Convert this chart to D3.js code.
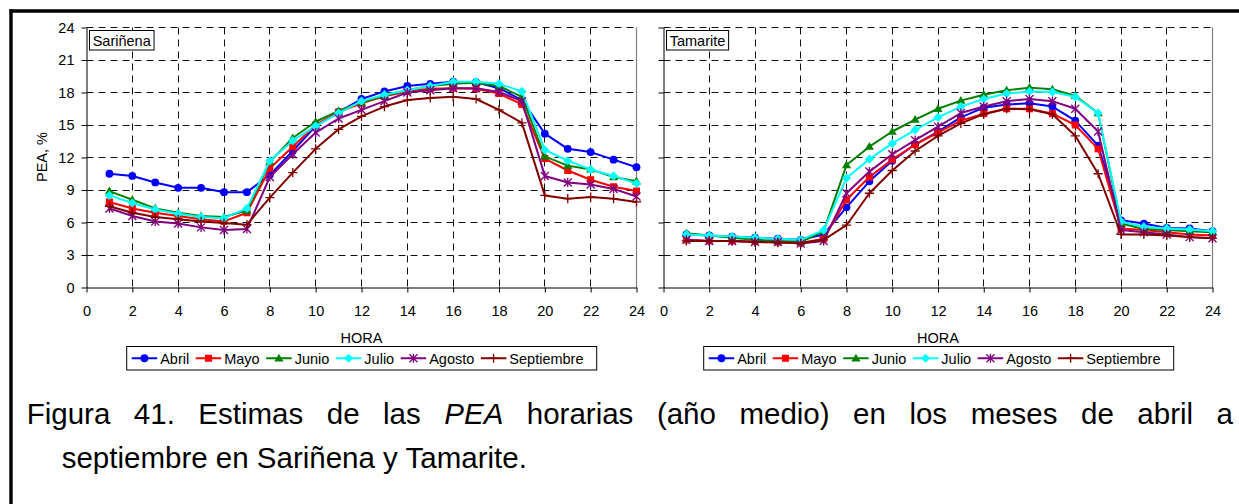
<!DOCTYPE html>
<html><head><meta charset="utf-8">
<script src="https://cdn.jsdelivr.net/npm/d3@7"></script>
<style>
body{margin:0;background:#fff;}
svg{display:block;font-family:"Liberation Sans",Arial,sans-serif;}
</style>
</head><body>
<svg id="c" width="1239" height="504"></svg>
<script>
// ---------- data ----------
const hours = [1,2,3,4,5,6,7,8,9,10,11,12,13,14,15,16,17,18,19,20,21,22,23,24];
const xTicks = [0,2,4,6,8,10,12,14,16,18,20,22,24];
const yTicks = [0,3,6,9,12,15,18,21,24];
const months = ["Abril","Mayo","Junio","Julio","Agosto","Septiembre"];
const stations = ["Sariñena","Tamarite"];

const sarAbril = [10.5,10.3,9.7,9.2,9.2,8.8,8.8,10.4,12.6,14.9,16.2,17.4,18.1,18.6,18.8,19.0,18.95,18.4,17.3,14.2,12.8,12.5,11.8,11.1];
const sarMayo  = [7.9,7.3,6.9,6.6,6.3,6.1,6.9,11.0,13.0,15.0,16.2,17.0,17.65,18.1,18.35,18.4,18.35,17.9,16.9,11.9,10.8,9.95,9.3,8.9];
const sarJunio = [8.9,8.1,7.3,6.9,6.6,6.5,7.1,11.6,13.8,15.3,16.3,17.1,17.7,18.2,18.6,18.8,18.9,18.6,17.6,12.1,11.25,10.9,10.2,9.8];
const sarJulio = [8.5,7.8,7.2,6.8,6.5,6.4,7.3,11.7,13.55,14.9,16.1,17.2,17.8,18.2,18.6,19.0,19.0,18.8,18.1,12.7,11.7,10.9,10.3,9.6];
const sarAgosto = [7.3,6.6,6.1,5.9,5.55,5.3,5.4,10.2,12.3,14.3,15.6,16.4,17.2,18.0,18.2,18.4,18.4,18.05,17.2,10.3,9.7,9.5,9.1,8.4];
const sarSeptiembre = [7.5,6.9,6.5,6.3,6.1,5.95,5.8,8.3,10.6,12.8,14.6,15.8,16.7,17.3,17.5,17.6,17.4,16.4,15.2,8.5,8.2,8.35,8.2,7.9];

const tamAbril = [4.9,4.8,4.7,4.6,4.5,4.4,4.9,7.4,9.8,11.7,13.2,14.4,15.7,16.6,16.9,17.0,16.7,15.4,13.1,6.2,5.9,5.5,5.45,5.2];
const tamMayo  = [4.4,4.3,4.3,4.25,4.2,4.1,4.5,8.1,10.2,11.8,13.2,14.3,15.4,16.05,16.5,16.5,16.05,15.0,12.8,5.45,5.3,5.1,4.9,4.8];
const tamJunio = [5.0,4.8,4.6,4.4,4.3,4.2,5.2,11.3,13.0,14.4,15.5,16.5,17.25,17.8,18.2,18.45,18.3,17.7,16.1,5.9,5.4,5.3,5.2,5.1];
const tamJulio = [4.9,4.8,4.7,4.6,4.5,4.4,5.3,10.1,11.85,13.3,14.55,15.7,16.7,17.4,17.9,18.1,18.05,17.6,16.1,6.1,5.6,5.45,5.35,5.2];
const tamAgosto = [4.4,4.3,4.3,4.2,4.2,4.05,4.3,8.7,10.7,12.3,13.6,14.85,16.1,16.7,17.2,17.4,17.2,16.5,14.4,5.3,5.1,4.9,4.65,4.55];
const tamSeptiembre = [4.3,4.3,4.3,4.2,4.15,4.1,4.4,5.75,8.7,10.8,12.6,14.0,15.15,16.0,16.5,16.45,16.0,14.0,10.5,4.9,4.9,4.8,4.65,4.55];

const xTitle = "HORA";
const yTitle = "PEA, %";
const captionLine1 = "Figura 41. Estimas de las PEA horarias (año medio) en los meses de abril a";
const captionLine2 = "septiembre en Sariñena y Tamarite.";

// ---------- styles ----------
const colors = ["#0000FF","#FF0000","#008000","#00FFFF","#800080","#800000"];
const markerKinds = ["circle","square","triangle","diamond","asterisk","plus"];

const svg = d3.select("#c");
const FS = 14.5;

function drawMarker(g, kind, color, x, y){
  if(kind==="circle"){
    g.append("circle").attr("cx",x).attr("cy",y).attr("r",3.9).attr("fill",color);
  } else if(kind==="square"){
    g.append("rect").attr("x",x-3.5).attr("y",y-3.5).attr("width",7).attr("height",7).attr("fill",color);
  } else if(kind==="triangle"){
    g.append("path").attr("d",`M${x},${y-4.6}L${x+4.6},${y+3.2}L${x-4.6},${y+3.2}Z`).attr("fill",color);
  } else if(kind==="diamond"){
    g.append("path").attr("d",`M${x},${y-4.6}L${x+4.6},${y}L${x},${y+4.6}L${x-4.6},${y}Z`).attr("fill",color);
  } else if(kind==="asterisk"){
    const s=4;
    g.append("path").attr("d",`M${x-s},${y-s}L${x+s},${y+s}M${x-s},${y+s}L${x+s},${y-s}M${x},${y-s-0.6}L${x},${y+s+0.6}`)
      .attr("stroke",color).attr("stroke-width",1.3).attr("fill","none");
  } else if(kind==="plus"){
    const s=4.6;
    g.append("path").attr("d",`M${x-s},${y}L${x+s},${y}M${x},${y-s}L${x},${y+s}`)
      .attr("stroke",color).attr("stroke-width",1.3).attr("fill","none");
  }
}

const panels = [
  {name: stations[0], series:[sarAbril,sarMayo,sarJunio,sarJulio,sarAgosto,sarSeptiembre], left:86.5, right:636.5, yLabels:true},
  {name: stations[1], series:[tamAbril,tamMayo,tamJunio,tamJulio,tamAgosto,tamSeptiembre], left:663.5, right:1212.5, yLabels:false}
];
const plotTop = 27.5, plotBottom = 287.5;

panels.forEach(p=>{
  const x = d3.scaleLinear().domain([0,24]).range([p.left,p.right]);
  const y = d3.scaleLinear().domain([0,24]).range([plotBottom,plotTop]);
  const g = svg.append("g");
  const cx = v => Math.round(x(v)-0.5)+0.5;
  const cy = v => Math.round(y(v)-0.5)+0.5;

  g.selectAll(".hg").data(yTicks.filter(d=>d>0)).join("line")
    .attr("x1",p.left).attr("x2",p.right).attr("y1",d=>cy(d)).attr("y2",d=>cy(d))
    .attr("stroke","#111").attr("stroke-width",1).attr("stroke-dasharray","7,5");
  g.selectAll(".vg").data(xTicks.filter(d=>d>0 && d<24)).join("line")
    .attr("x1",d=>cx(d)).attr("x2",d=>cx(d)).attr("y1",plotTop).attr("y2",plotBottom)
    .attr("stroke","#111").attr("stroke-width",1).attr("stroke-dasharray","7,5");
  g.append("line").attr("x1",cx(24)).attr("x2",cx(24)).attr("y1",plotTop).attr("y2",plotBottom)
    .attr("stroke","#808080").attr("stroke-width",1.2);

  const yAxis = d3.axisLeft(y).tickValues(yTicks).tickSizeInner(5).tickSizeOuter(0)
    .tickFormat(p.yLabels ? d3.format("d") : ()=>"").tickPadding(7);
  const ya = g.append("g").attr("transform",`translate(${p.left},0)`).call(yAxis);
  const xAxis = d3.axisBottom(x).tickValues(xTicks).tickSizeInner(5).tickSizeOuter(0)
    .tickFormat(d3.format("d")).tickPadding(8);
  const xa = g.append("g").attr("transform",`translate(0,${plotBottom})`).call(xAxis);
  [ya,xa].forEach(a=>{
    a.selectAll("path,line").attr("stroke","#000").attr("stroke-width",1);
    a.selectAll("text").attr("font-size",FS).attr("fill","#000").attr("font-family","Liberation Sans, Arial, sans-serif");
  });
  xa.selectAll("text").attr("dy",null).attr("y",316-plotBottom);

  const line = d3.line().x((d,i)=>x(hours[i])).y(d=>y(d));
  p.series.forEach((vals,si)=>{
    const sg = g.append("g");
    sg.append("path").datum(vals).attr("d",line).attr("fill","none")
      .attr("stroke",colors[si]).attr("stroke-width",2).attr("stroke-linejoin","round");
    vals.forEach((v,i)=>drawMarker(sg, markerKinds[si], colors[si], x(hours[i]), y(v)));
  });

  const lb = g.append("g");
  const lt = lb.append("text").attr("x",p.left+6.2).attr("y",45.5).attr("font-size",FS).attr("fill","#000").text(p.name);
  const tw = lt.node().getComputedTextLength();
  lb.insert("rect","text").attr("x",p.left+3).attr("y",30.5).attr("width",tw+6.5).attr("height",19.5)
    .attr("fill","#fff").attr("stroke","#000").attr("stroke-width",1);

  g.append("text").attr("x",(p.left+p.right)/2).attr("y",343.3).attr("text-anchor","middle")
    .attr("font-size",FS).attr("fill","#000").text(xTitle);

  const legX = p.left+40.2, legY = 346.5;
  const leg = g.append("g");
  leg.append("rect").attr("x",legX).attr("y",legY).attr("width",470).attr("height",23.5)
    .attr("fill","#fff").attr("stroke","#000").attr("stroke-width",1);
  let cur = legX+5;
  months.forEach((m,si)=>{
    leg.append("line").attr("x1",cur).attr("x2",cur+25.5).attr("y1",legY+11.75).attr("y2",legY+11.75)
      .attr("stroke",colors[si]).attr("stroke-width",2);
    drawMarker(leg, markerKinds[si], colors[si], cur+12.75, legY+11.75);
    const t = leg.append("text").attr("x",cur+28.5).attr("y",legY+17).attr("font-size",FS).attr("fill","#000").text(m);
    cur = cur+28.5+t.node().getComputedTextLength()+6.5;
  });
});

svg.append("text").attr("transform","translate(47,157) rotate(-90)").attr("text-anchor","middle")
  .attr("font-size",FS).attr("fill","#000").text(yTitle);

svg.append("line").attr("x1",9.3).attr("x2",1239).attr("y1",11).attr("y2",11).attr("stroke","#000").attr("stroke-width",3.4);
svg.append("line").attr("x1",11).attr("x2",11).attr("y1",9.3).attr("y2",504).attr("stroke","#000").attr("stroke-width",3.4);

const CFS = 29.5;
const cap = svg.append("g").attr("font-size",CFS).attr("fill","#000");
const words = captionLine1.split(" ");
const tmp = words.map(w=>{
  const t = cap.append("text").attr("y",423.5).text(w);
  if(w==="PEA") t.attr("font-style","italic");
  return t;
});
const widths = tmp.map(t=>t.node().getComputedTextLength());
const x0c = 26.7, x1c = 1233;
const gap = (x1c-x0c-d3.sum(widths))/(words.length-1);
let cx0 = x0c;
tmp.forEach((t,i)=>{ t.attr("x",cx0); cx0 += widths[i]+gap; });
cap.append("text").attr("x",61.7).attr("y",468).text(captionLine2);
</script>
</body></html>
